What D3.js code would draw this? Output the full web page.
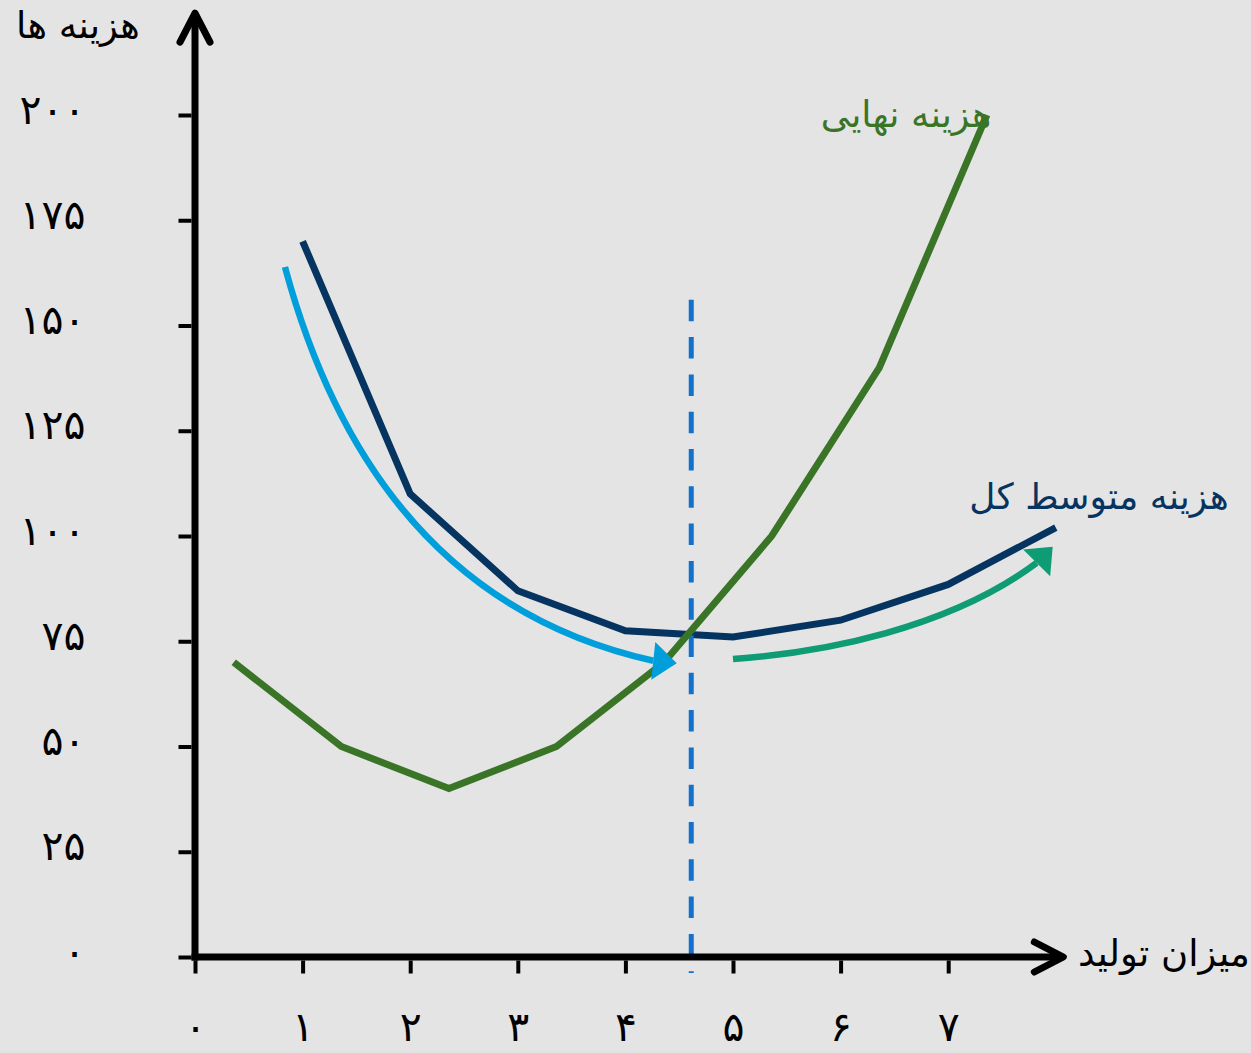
<!DOCTYPE html>
<html>
<head>
<meta charset="utf-8">
<script src="https://cdn.jsdelivr.net/npm/d3@7"></script>
<style>
  html, body { margin: 0; padding: 0; background: #e4e4e4; }
  svg { display: block; }
  text { font-family: "DejaVu Sans", sans-serif; }
</style>
</head>
<body>
<svg id="chart" width="1251" height="1053"></svg>
<script>
// Axis ticks
const xTicks = [0, 1, 2, 3, 4, 5, 6, 7];
const yTicks = [0, 25, 50, 75, 100, 125, 150, 175, 200];

// Marginal cost (هزینه نهایی)
const mcOutput = [0.36, 1.36, 2.36, 3.36, 4.36, 5.36, 6.36, 7.36];
const mcCost   = [70, 50, 40, 50, 70, 100, 140, 200];

// Average total cost (هزینه متوسط کل)
const atcOutput = [1, 2, 3, 4, 5, 6, 7, 8];
const atcCost   = [170, 110, 87, 77.5, 76, 80, 88.5, 102];

// Direction arrows along the average-cost curve: cubic control points [output, cost] and tip
const fallingCurve = [[0.836, 163.9], [1.441, 106.7], [2.686, 79.3], [4.259, 70.36]];
const fallingTip   = [4.477, 69.76];
const risingCurve  = [[5.0, 70.8], [5.843, 72.3], [7.010, 78.1], [7.822, 93.6]];
const risingTip    = [7.971, 97.46];

// Output level at minimum average cost
const minOutput = 4.612;
const minGuide  = [-3.8, 156.1];

// Axis ends (arrow tips)
const xAxisEnd = 8.07;
const yAxisEnd = 224.2;

// Text
const yTitle   = "هزینه ها";
const xTitle   = "میزان تولید";
const mcLabel  = "هزینه نهایی";
const atcLabel = "هزینه متوسط کل";

const faDigits = "۰۱۲۳۴۵۶۷۸۹";
const toFa = d => String(d).replace(/\d/g, c => faDigits[+c]);

const svg = d3.select("#chart");
const W = 1251, H = 1053;
svg.append("rect").attr("width", W).attr("height", H).attr("fill", "#e4e4e4");

const x = d3.scaleLinear().domain([0, 7]).range([195, 948.2]);
const y = d3.scaleLinear().domain([0, 200]).range([957, 115]);

const AXW = 7;

// Y axis ticks and labels
const yAxis = d3.axisLeft(y).tickValues(yTicks).tickSize(13).tickPadding(93).tickFormat(toFa);
const gy = svg.append("g").attr("transform", `translate(${x(0) - AXW / 2},0)`).call(yAxis);
gy.select(".domain").remove();
gy.selectAll(".tick line").attr("stroke", "#000").attr("stroke-width", 4);
gy.selectAll(".tick text")
  .attr("fill", "#000").attr("font-size", 41).attr("dy", "0.2em")
  .style("font-family", "'DejaVu Sans', sans-serif");

// X axis ticks and labels
const xAxis = d3.axisBottom(x).tickValues(xTicks).tickSize(13).tickPadding(59).tickFormat(toFa);
const gx = svg.append("g").attr("transform", `translate(0,${y(0) + AXW / 2})`).call(xAxis);
gx.select(".domain").remove();
gx.selectAll(".tick line").attr("stroke", "#000").attr("stroke-width", 4);
gx.selectAll(".tick text")
  .attr("fill", "#000").attr("font-size", 41).attr("dy", "0.2em")
  .style("font-family", "'DejaVu Sans', sans-serif");

// Axis titles
svg.append("text").attr("x", 78).attr("y", 38).attr("text-anchor", "middle")
  .attr("font-size", 37).attr("fill", "#000").text(yTitle);
svg.append("text").attr("x", 1164).attr("y", 966).attr("text-anchor", "middle")
  .attr("font-size", 37).attr("fill", "#000").text(xTitle);

// Curve labels
svg.append("text").attr("x", 906).attr("y", 127).attr("text-anchor", "middle")
  .attr("font-size", 36.5).attr("fill", "#3a7427").text(mcLabel);
svg.append("text").attr("x", 1099).attr("y", 509).attr("text-anchor", "middle")
  .attr("font-size", 36).attr("fill", "#063461").text(atcLabel);

const line = d3.line().x(d => x(d[0])).y(d => y(d[1]));

// Average total cost
svg.append("path")
  .datum(atcOutput.map((v, i) => [v, atcCost[i]]))
  .attr("d", line).attr("fill", "none")
  .attr("stroke", "#063461").attr("stroke-width", 7).attr("stroke-linejoin", "miter");

// Dashed guide at minimum average cost
svg.append("line")
  .attr("x1", x(minOutput)).attr("x2", x(minOutput))
  .attr("y1", y(minGuide[1])).attr("y2", y(minGuide[0]))
  .attr("stroke", "#1271cc").attr("stroke-width", 5).attr("stroke-dasharray", "21.5 15.8");

// Marginal cost
svg.append("path")
  .datum(mcOutput.map((v, i) => [v, mcCost[i]]))
  .attr("d", line).attr("fill", "none")
  .attr("stroke", "#3a7427").attr("stroke-width", 7).attr("stroke-linejoin", "miter");

// Curved direction arrows
function curveArrow(pts, tip, color) {
  const p = pts.map(d => [x(d[0]), y(d[1])]);
  const path = d3.path();
  path.moveTo(p[0][0], p[0][1]);
  path.bezierCurveTo(p[1][0], p[1][1], p[2][0], p[2][1], p[3][0], p[3][1]);
  svg.append("path").attr("d", path.toString()).attr("fill", "none")
    .attr("stroke", color).attr("stroke-width", 6.5);
  const b = p[3], t = [x(tip[0]), y(tip[1])];
  const len = Math.hypot(t[0] - b[0], t[1] - b[1]);
  const ux = (t[0] - b[0]) / len, uy = (t[1] - b[1]) / len;
  const hw = 19;
  const head = [t, [b[0] - uy * hw, b[1] + ux * hw], [b[0] + uy * hw, b[1] - ux * hw]];
  svg.append("path").attr("d", "M" + head.map(q => q.join(",")).join("L") + "Z").attr("fill", color);
}
curveArrow(fallingCurve, fallingTip, "#009fdb");
curveArrow(risingCurve, risingTip, "#0f9b73");

// Axis lines with open arrowheads
const ax = svg.append("g").attr("stroke", "#000").attr("fill", "none")
  .attr("stroke-width", AXW);
const x0 = x(0), y0 = y(0);
ax.append("line").attr("x1", x0).attr("x2", x0).attr("y1", y0 + AXW / 2).attr("y2", y(yAxisEnd) + 3);
ax.append("line").attr("x1", x0 - AXW / 2).attr("x2", x(xAxisEnd) - 3).attr("y1", y0).attr("y2", y0);
ax.append("path")
  .attr("d", `M${x0 - 15},${y(yAxisEnd) + 29}L${x0},${y(yAxisEnd)}L${x0 + 15},${y(yAxisEnd) + 29}`)
  .attr("stroke-linecap", "round").attr("stroke-linejoin", "round");
ax.append("path")
  .attr("d", `M${x(xAxisEnd) - 29},${y0 - 15}L${x(xAxisEnd)},${y0}L${x(xAxisEnd) - 29},${y0 + 15}`)
  .attr("stroke-linecap", "round").attr("stroke-linejoin", "round");
</script>
</body>
</html>
